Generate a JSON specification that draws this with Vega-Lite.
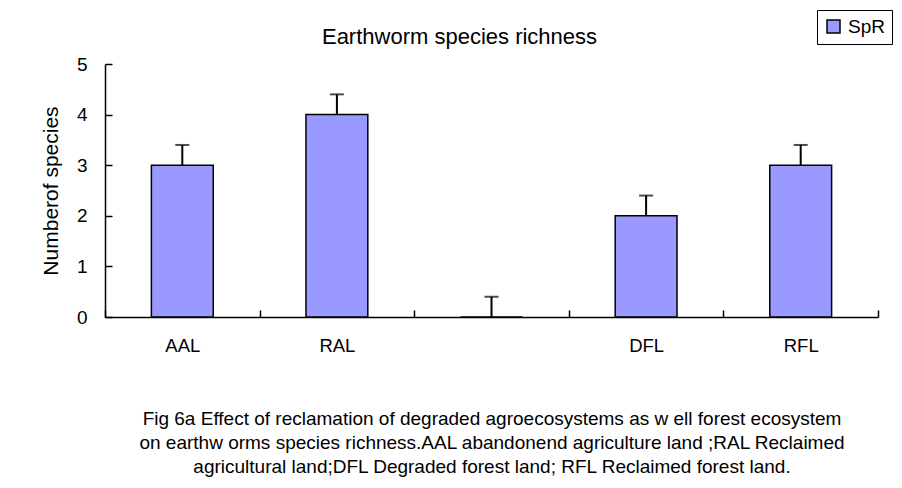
{
  "$schema": "https://vega.github.io/schema/vega-lite/v6.json",
  "width": 773,
  "height": 253,
  "autosize": {"type": "none"},
  "padding": {"left": 105, "top": 64, "right": 24, "bottom": 171},
  "background": "white",
  "config": {
    "font": "Liberation Sans",
    "view": {"stroke": null},
    "axis": {"grid": false, "domainColor": "black", "domainWidth": 1.5, "tickColor": "black", "tickWidth": 1.5, "labelColor": "black", "titleColor": "black", "labelFont": "Liberation Sans", "titleFont": "Liberation Sans"}
  },
  "title": {
    "text": "Earthworm species richness",
    "fontSize": 22,
    "fontWeight": "normal",
    "color": "black",
    "anchor": "middle",
    "baseline": "alphabetic",
    "dx": -32,
    "dy": 56,
    "offset": 0
  },
  "data": {
    "values": [
      {"cat": "AAL", "value": 3, "upper": 3.4, "series": "SpR"},
      {"cat": "RAL", "value": 4, "upper": 4.4, "series": "SpR"},
      {"cat": " ", "value": 0, "upper": 0.4, "series": "SpR"},
      {"cat": "DFL", "value": 2, "upper": 2.4, "series": "SpR"},
      {"cat": "RFL", "value": 3, "upper": 3.4, "series": "SpR"}
    ]
  },
  "encoding": {
    "x": {
      "field": "cat",
      "type": "nominal",
      "sort": null,
      "scale": {"paddingInner": 0, "paddingOuter": 0},
      "axis": {
        "title": ["Fig 6a Effect of reclamation of degraded agroecosystems as w ell forest ecosystem", "on earthw orms species richness.AAL abandonend agriculture land ;RAL Reclaimed", "agricultural land;DFL Degraded forest land; RFL Reclaimed forest land."],
        "titleFontSize": 19,
        "titleFontWeight": "normal",
        "titleLineHeight": 24,
        "titlePadding": 55,
        "labelAngle": 0,
        "labelFontSize": 18.5,
        "labelPadding": 26,
        "tickBand": "extent",
        "tickSize": -7
      }
    }
  },
  "layer": [
    {
      "mark": {"type": "bar", "stroke": "black", "strokeWidth": 1.5, "width": {"band": 0.4}},
      "encoding": {
        "y": {
          "field": "value",
          "type": "quantitative",
          "scale": {"domain": [0, 5], "nice": false},
          "axis": {"values": [0, 1, 2, 3, 4, 5], "title": "Numberof species", "titleFontSize": 21, "titleFontWeight": "normal", "titlePadding": 15, "labelFontSize": 19, "labelPadding": 25, "tickSize": -7}
        },
        "color": {
          "field": "series",
          "type": "nominal",
          "scale": {"range": ["#9999FF"]},
          "legend": {
            "title": null,
            "orient": "none",
            "legendX": 712,
            "legendY": -54,
            "strokeColor": "black",
            "padding": 7,
            "symbolType": "square",
            "symbolSize": 169,
            "symbolStrokeColor": "black",
            "symbolStrokeWidth": 1.5,
            "labelFontSize": 19,
            "labelOffset": 5,
            "labelColor": "black",
            "labelFont": "Liberation Sans"
          }
        }
      }
    },
    {
      "mark": {"type": "rule", "color": "black", "strokeWidth": 2},
      "encoding": {
        "y": {"field": "value", "type": "quantitative"},
        "y2": {"field": "upper"}
      }
    },
    {
      "mark": {"type": "tick", "color": "black", "thickness": 2, "size": 14},
      "encoding": {
        "y": {"field": "upper", "type": "quantitative"}
      }
    }
  ]
}
